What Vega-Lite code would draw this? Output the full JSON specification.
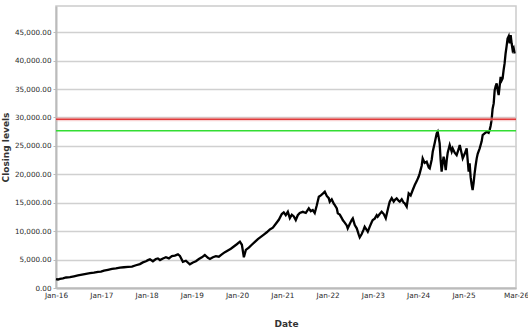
{
  "$schema": "https://vega.github.io/schema/vega-lite/v6.json",
  "width": 460,
  "height": 282,
  "autosize": {"type": "none"},
  "padding": {"left": 56, "top": 6, "right": 12, "bottom": 48},
  "background": "white",
  "config": {
    "view": {"stroke": "#cccccc", "strokeWidth": 1.5},
    "font": "DejaVu Sans",
    "axis": {
      "labelFont": "DejaVu Sans",
      "titleFont": "DejaVu Sans",
      "labelColor": "#2a2a2a",
      "titleColor": "#333333",
      "domainColor": "#bbbbbb",
      "domainWidth": 2,
      "gridColor": "#d0d0d0",
      "gridWidth": 1.5,
      "tickColor": "#bbbbbb"
    }
  },
  "encoding": {
    "y": {
      "field": "close", "type": "quantitative",
      "scale": {"domain": [0, 49600], "nice": false},
      "axis": {
        "title": "Closing levels",
        "format": ",.2f",
        "values": [0, 5000, 10000, 15000, 20000, 25000, 30000, 35000, 40000, 45000],
        "labelOverlap": false,
        "tickSize": 3,
        "labelFontSize": 7.2,
        "labelPadding": 2,
        "titleFontSize": 9,
        "titleFontWeight": "bold",
        "titlePadding": 4
      }
    }
  },
  "layer": [
    {
      "data": {"values": [
        {"date": "2016-01-01", "close": 1580}, {"date": "2016-01-17", "close": 1500}, {"date": "2016-02-02", "close": 1620}, {"date": "2016-02-26", "close": 1700},
        {"date": "2016-03-22", "close": 1850}, {"date": "2016-04-23", "close": 1900}, {"date": "2016-05-25", "close": 2050}, {"date": "2016-06-26", "close": 2200},
        {"date": "2016-07-29", "close": 2350}, {"date": "2016-08-30", "close": 2500}, {"date": "2016-10-01", "close": 2600}, {"date": "2016-11-02", "close": 2700},
        {"date": "2016-12-05", "close": 2850}, {"date": "2016-12-29", "close": 2870}, {"date": "2017-01-22", "close": 3050}, {"date": "2017-02-23", "close": 3200},
        {"date": "2017-03-28", "close": 3350}, {"date": "2017-04-29", "close": 3450}, {"date": "2017-05-31", "close": 3600}, {"date": "2017-07-02", "close": 3650},
        {"date": "2017-08-04", "close": 3700}, {"date": "2017-09-05", "close": 3750}, {"date": "2017-10-07", "close": 4000}, {"date": "2017-11-08", "close": 4200},
        {"date": "2017-12-02", "close": 4500}, {"date": "2017-12-27", "close": 4700}, {"date": "2018-01-12", "close": 4900}, {"date": "2018-01-28", "close": 5040},
        {"date": "2018-02-21", "close": 4700}, {"date": "2018-03-17", "close": 5100}, {"date": "2018-04-02", "close": 5200}, {"date": "2018-04-19", "close": 4920},
        {"date": "2018-05-13", "close": 5200}, {"date": "2018-06-06", "close": 5400}, {"date": "2018-06-30", "close": 5200}, {"date": "2018-07-24", "close": 5600},
        {"date": "2018-08-17", "close": 5700}, {"date": "2018-09-11", "close": 5920}, {"date": "2018-09-27", "close": 5650}, {"date": "2018-10-21", "close": 4620},
        {"date": "2018-11-14", "close": 4800}, {"date": "2018-12-16", "close": 4170}, {"date": "2019-01-10", "close": 4500}, {"date": "2019-02-03", "close": 4700},
        {"date": "2019-02-27", "close": 5100}, {"date": "2019-03-23", "close": 5400}, {"date": "2019-04-16", "close": 5800}, {"date": "2019-05-11", "close": 5300},
        {"date": "2019-05-27", "close": 5100}, {"date": "2019-06-20", "close": 5400}, {"date": "2019-07-14", "close": 5600}, {"date": "2019-08-07", "close": 5500},
        {"date": "2019-08-31", "close": 5900}, {"date": "2019-09-25", "close": 6300}, {"date": "2019-10-19", "close": 6600}, {"date": "2019-11-12", "close": 6900},
        {"date": "2019-12-06", "close": 7300}, {"date": "2019-12-30", "close": 7700}, {"date": "2020-01-24", "close": 8140}, {"date": "2020-02-09", "close": 7600},
        {"date": "2020-02-25", "close": 5400}, {"date": "2020-03-12", "close": 6700}, {"date": "2020-04-05", "close": 7100}, {"date": "2020-04-29", "close": 7600},
        {"date": "2020-05-24", "close": 8100}, {"date": "2020-06-17", "close": 8600}, {"date": "2020-07-11", "close": 9000}, {"date": "2020-08-04", "close": 9400},
        {"date": "2020-08-28", "close": 9800}, {"date": "2020-09-22", "close": 10300}, {"date": "2020-10-16", "close": 10600}, {"date": "2020-11-09", "close": 11300},
        {"date": "2020-12-03", "close": 12000}, {"date": "2020-12-27", "close": 13000}, {"date": "2021-01-12", "close": 13300}, {"date": "2021-01-28", "close": 12800},
        {"date": "2021-02-14", "close": 13400}, {"date": "2021-03-02", "close": 12300}, {"date": "2021-03-18", "close": 12900}, {"date": "2021-04-03", "close": 12600},
        {"date": "2021-04-19", "close": 11950}, {"date": "2021-05-05", "close": 12800}, {"date": "2021-05-21", "close": 13200}, {"date": "2021-06-15", "close": 13400},
        {"date": "2021-07-09", "close": 13200}, {"date": "2021-08-02", "close": 14000}, {"date": "2021-08-18", "close": 13500}, {"date": "2021-09-03", "close": 13710},
        {"date": "2021-09-19", "close": 13180}, {"date": "2021-10-05", "close": 14500}, {"date": "2021-10-22", "close": 16050}, {"date": "2021-11-07", "close": 16300},
        {"date": "2021-11-23", "close": 16600}, {"date": "2021-12-09", "close": 16930}, {"date": "2021-12-25", "close": 16200}, {"date": "2022-01-10", "close": 15800},
        {"date": "2022-01-18", "close": 15170}, {"date": "2022-02-03", "close": 15600}, {"date": "2022-02-20", "close": 14800}, {"date": "2022-02-28", "close": 14590},
        {"date": "2022-03-16", "close": 14000}, {"date": "2022-03-24", "close": 13130}, {"date": "2022-04-09", "close": 12900}, {"date": "2022-04-25", "close": 12300},
        {"date": "2022-05-03", "close": 11950}, {"date": "2022-05-19", "close": 11500}, {"date": "2022-06-04", "close": 11000}, {"date": "2022-06-12", "close": 10490},
        {"date": "2022-06-29", "close": 11300}, {"date": "2022-07-15", "close": 12000}, {"date": "2022-07-23", "close": 12250}, {"date": "2022-08-08", "close": 11075},
        {"date": "2022-08-24", "close": 10500}, {"date": "2022-09-09", "close": 9400}, {"date": "2022-09-17", "close": 8910}, {"date": "2022-10-03", "close": 9500},
        {"date": "2022-10-19", "close": 10300}, {"date": "2022-10-27", "close": 10780}, {"date": "2022-11-13", "close": 10200}, {"date": "2022-11-21", "close": 9900},
        {"date": "2022-12-07", "close": 10800}, {"date": "2022-12-23", "close": 11600}, {"date": "2022-12-31", "close": 11950}, {"date": "2023-01-16", "close": 12200},
        {"date": "2023-02-01", "close": 12800}, {"date": "2023-02-09", "close": 12530}, {"date": "2023-02-25", "close": 13000}, {"date": "2023-03-13", "close": 13410},
        {"date": "2023-03-30", "close": 13000}, {"date": "2023-04-15", "close": 12250}, {"date": "2023-04-23", "close": 13000}, {"date": "2023-05-09", "close": 14500},
        {"date": "2023-05-17", "close": 15170}, {"date": "2023-06-02", "close": 15800}, {"date": "2023-06-18", "close": 15200}, {"date": "2023-06-26", "close": 15470},
        {"date": "2023-07-12", "close": 15770}, {"date": "2023-07-29", "close": 15300}, {"date": "2023-08-06", "close": 15170}, {"date": "2023-08-22", "close": 15600},
        {"date": "2023-09-07", "close": 15000}, {"date": "2023-09-15", "close": 14890}, {"date": "2023-10-01", "close": 14300}, {"date": "2023-10-17", "close": 16650},
        {"date": "2023-11-02", "close": 16300}, {"date": "2023-11-18", "close": 17200}, {"date": "2023-12-05", "close": 18110}, {"date": "2023-12-21", "close": 18800},
        {"date": "2024-01-06", "close": 19600}, {"date": "2024-01-14", "close": 20160}, {"date": "2024-01-30", "close": 21500}, {"date": "2024-02-07", "close": 22800},
        {"date": "2024-02-23", "close": 22000}, {"date": "2024-03-10", "close": 22200}, {"date": "2024-03-27", "close": 21200}, {"date": "2024-04-04", "close": 21040},
        {"date": "2024-04-20", "close": 22600}, {"date": "2024-04-28", "close": 23960}, {"date": "2024-05-14", "close": 25500}, {"date": "2024-05-30", "close": 27200},
        {"date": "2024-06-07", "close": 27480}, {"date": "2024-06-15", "close": 26500}, {"date": "2024-06-23", "close": 25440}, {"date": "2024-07-01", "close": 22500},
        {"date": "2024-07-09", "close": 20450}, {"date": "2024-07-17", "close": 22000}, {"date": "2024-07-25", "close": 23080}, {"date": "2024-08-03", "close": 22000},
        {"date": "2024-08-11", "close": 20740}, {"date": "2024-08-19", "close": 22500}, {"date": "2024-08-27", "close": 23800}, {"date": "2024-09-12", "close": 25140},
        {"date": "2024-09-28", "close": 24000}, {"date": "2024-10-06", "close": 24560}, {"date": "2024-10-22", "close": 23800}, {"date": "2024-11-07", "close": 23380},
        {"date": "2024-11-24", "close": 24500}, {"date": "2024-12-02", "close": 25140}, {"date": "2024-12-18", "close": 23600}, {"date": "2024-12-26", "close": 22800},
        {"date": "2025-01-11", "close": 23600}, {"date": "2025-01-27", "close": 24560}, {"date": "2025-02-04", "close": 22500}, {"date": "2025-02-12", "close": 20450},
        {"date": "2025-02-20", "close": 21920}, {"date": "2025-02-28", "close": 19500}, {"date": "2025-03-08", "close": 18200}, {"date": "2025-03-16", "close": 17230},
        {"date": "2025-03-24", "close": 18500}, {"date": "2025-04-01", "close": 20160}, {"date": "2025-04-09", "close": 21500}, {"date": "2025-04-18", "close": 22800},
        {"date": "2025-04-26", "close": 23600}, {"date": "2025-05-12", "close": 24560}, {"date": "2025-05-28", "close": 25800}, {"date": "2025-06-05", "close": 26900},
        {"date": "2025-06-21", "close": 27200}, {"date": "2025-07-07", "close": 27480}, {"date": "2025-07-23", "close": 27300}, {"date": "2025-07-31", "close": 27780},
        {"date": "2025-08-08", "close": 28500}, {"date": "2025-08-16", "close": 29530}, {"date": "2025-08-24", "close": 31500}, {"date": "2025-09-02", "close": 32470},
        {"date": "2025-09-10", "close": 34810}, {"date": "2025-09-18", "close": 35500}, {"date": "2025-09-26", "close": 35980}, {"date": "2025-10-04", "close": 34800},
        {"date": "2025-10-12", "close": 33930}, {"date": "2025-10-20", "close": 35500}, {"date": "2025-10-28", "close": 37150}, {"date": "2025-11-05", "close": 36500},
        {"date": "2025-11-13", "close": 36860}, {"date": "2025-11-21", "close": 38320}, {"date": "2025-11-29", "close": 39500}, {"date": "2025-12-07", "close": 41250},
        {"date": "2025-12-15", "close": 42500}, {"date": "2025-12-23", "close": 43890}, {"date": "2026-01-01", "close": 44300}, {"date": "2026-01-09", "close": 43010},
        {"date": "2026-01-17", "close": 44480}, {"date": "2026-01-25", "close": 43000}, {"date": "2026-02-02", "close": 41840}, {"date": "2026-02-10", "close": 42200},
        {"date": "2026-02-18", "close": 41250}
      ]},
      "mark": {"type": "line", "color": "black", "strokeWidth": 2.3, "strokeJoin": "miter"},
      "encoding": {
        "x": {
          "field": "date", "type": "temporal",
          "scale": {"domain": ["2016-01-01", "2026-03-01"]},
          "axis": {
            "title": "Date",
            "format": "%b-%y",
            "values": ["2016-01-01", "2017-01-01", "2018-01-01", "2019-01-01", "2020-01-01", "2021-01-01", "2022-01-01", "2023-01-01", "2024-01-01", "2025-01-01", "2026-03-01"],
            "grid": false,
            "ticks": false,
            "labelFontSize": 7.3,
            "labelPadding": 3,
            "labelFlush": false,
            "labelOverlap": false,
            "titleFontSize": 9,
            "titleFontWeight": "bold",
            "titlePadding": 21
          }
        }
      }
    },
    {
      "data": {"values": [{"close": 29700}]},
      "mark": {"type": "rule", "color": "#f2a0a0", "strokeWidth": 4, "opacity": 0.45},
      "encoding": {}
    },
    {
      "data": {"values": [{"close": 29700}]},
      "mark": {"type": "rule", "color": "#e03a3a", "strokeWidth": 1.5},
      "encoding": {}
    },
    {
      "data": {"values": [{"close": 27650}]},
      "mark": {"type": "rule", "color": "#33dd33", "strokeWidth": 1.5},
      "encoding": {}
    }
  ]
}
